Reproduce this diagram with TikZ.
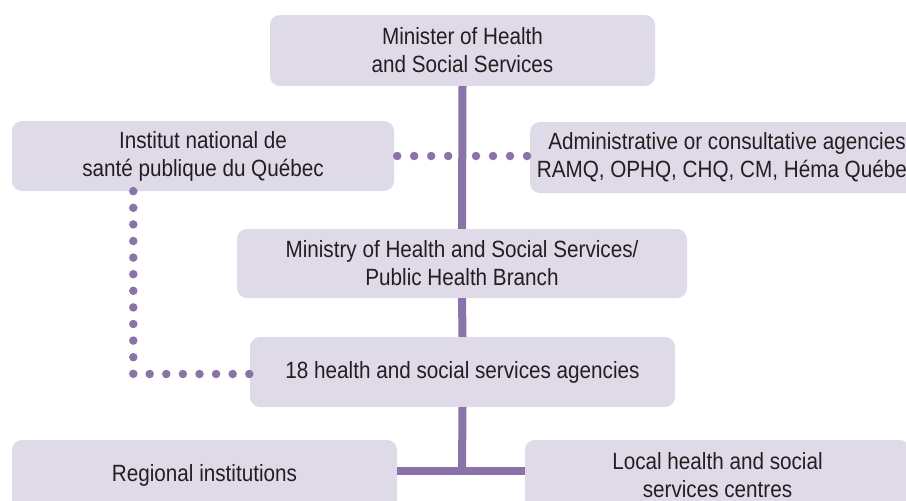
\documentclass[tikz,border=0pt]{standalone}
\usepackage{fontspec}
\setmainfont{Liberation Sans}[FakeStretch=0.88]
\usetikzlibrary{positioning}
\definecolor{boxfill}{HTML}{DEDAE8}
\definecolor{linkcol}{HTML}{8A73A8}
\definecolor{txtcol}{HTML}{231F20}
\tikzset{
  orgbox/.style={fill=boxfill,rounded corners=10pt,align=center,text=txtcol,
    font=\fontsize{23.5}{28}\selectfont,inner sep=0pt},
  link/.style={draw=linkcol,line width=8pt},
  dotlink/.style={draw=linkcol,line width=8.5pt,line cap=round,dash pattern=on 0pt off #1},
  dotlink/.default=16.6pt
}
\begin{document}
\begin{tikzpicture}[x=1pt,y=-1pt]
\useasboundingbox (0,0) rectangle (906,501);
\node[orgbox,minimum width=385pt,minimum height=71pt] (minister) at (462.5,50.5) {Minister of Health\\and Social Services};
\node[orgbox,minimum width=382pt,minimum height=70pt] (inspq) at (203,156) {Institut national de\\santé publique du Québec};
\node[orgbox,minimum width=394pt,minimum height=71pt] (admin) at (727,157.5) {Administrative or consultative agencies\\RAMQ, OPHQ, CHQ, CM, Héma Québec};
\node[orgbox,minimum width=450pt,minimum height=69pt] (ministry) at (462,263.5) {Ministry of Health and Social Services/\\Public Health Branch};
\node[orgbox,minimum width=425pt,minimum height=70pt] (agencies) at (462.5,372) {18 health and social services agencies};
\node[orgbox,minimum width=385pt,minimum height=70pt] (regional) at (204.5,475) {Regional institutions};
\node[orgbox,minimum width=385pt,minimum height=70pt] (local) at (717.5,475) {Local health and social\\services centres};
\coordinate (junction) at (462,471);
% solid links
\draw[link] (minister.south) -- (ministry.north);
\draw[link] (ministry.south) -- (agencies.north);
\draw[link] (agencies.south) -- (junction);
\draw[link] (regional.east |- junction) -- (local.west |- junction);
% dotted links
\draw[dotlink=17pt] ([xshift=3pt]inspq.east) -- ([xshift=-13pt]inspq.east -| minister.south);
\draw[dotlink=17pt] ([xshift=13.5pt]inspq.east -| minister.south) -- ([xshift=-2pt]admin.west |- inspq.east);
\draw[dotlink] ([xshift=-69.7pt]inspq.south) |- (agencies.west |- 0,374);
\end{tikzpicture}
\end{document}
